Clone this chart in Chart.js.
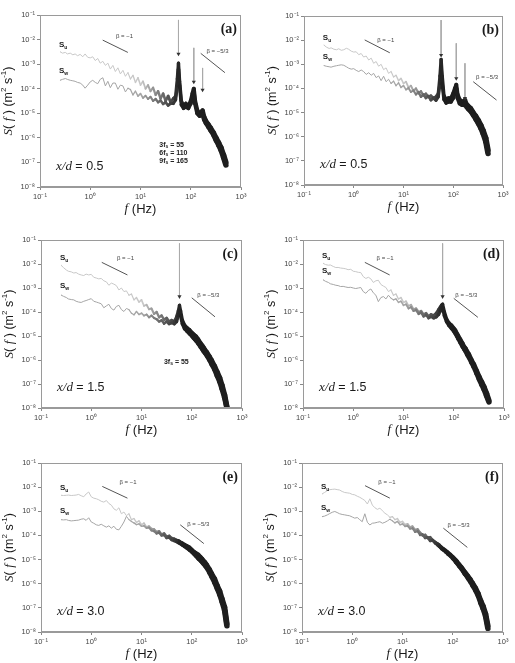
<!DOCTYPE html>
<html><head><meta charset="utf-8">
<script src="https://cdn.jsdelivr.net/npm/chart.js@4/dist/chart.umd.min.js"></script>
<style>
html,body{margin:0;padding:0;background:#fff;}
#wrap{position:relative;width:515px;height:663px;overflow:hidden;}
canvas{position:absolute;}
</style></head><body><div id="wrap">
<canvas id="cA" width="257" height="220" style="left:0;top:0;width:257px;height:220px"></canvas>
<canvas id="cB" width="258" height="220" style="left:257px;top:0;width:258px;height:220px"></canvas>
<canvas id="cC" width="257" height="220" style="left:0;top:220px;width:257px;height:220px"></canvas>
<canvas id="cD" width="258" height="220" style="left:257px;top:220px;width:258px;height:220px"></canvas>
<canvas id="cE" width="257" height="223" style="left:0;top:440px;width:257px;height:223px"></canvas>
<canvas id="cF" width="258" height="223" style="left:257px;top:440px;width:258px;height:223px"></canvas>
</div>
<script>
// ---------------- DATA ----------------
const freq = [0.25,0.28,0.32,0.35,0.40,0.45,0.50,0.56,0.63,0.71,0.79,0.89,1.0,1.12,1.26,1.41,1.58,1.78,2.0,2.24,2.51,2.82,3.16,3.55,3.98,4.47,5.01,5.62,6.31,7.08,7.94,8.91,10,11.2,12.6,14.1,15.8,17.8,20,22.4,25.1,28.2,31.6,35.5,39.8,45,50,54,57,60,65,72,80,90,100,108,115,122,135,150,162,172,185,200,225,250,285,320,360,400,450,500];
const xTicks = [0.1,1,10,100,1000];
const yTicks = [1e-8,1e-7,1e-6,1e-5,1e-4,1e-3,1e-2,1e-1];

const suA = [3.2e-3,2.8e-3,3.0e-3,2.6e-3,2.8e-3,2.4e-3,2.6e-3,2.2e-3,2.5e-3,2.0e-3,
2.6e-3,1.9e-3,1.8e-3,2.0e-3,1.4e-3,1.7e-3,1.1e-3,1.3e-3,8.9e-4,1.1e-3,
6.3e-4,8.9e-4,5.0e-4,7.1e-4,4.0e-4,5.6e-4,3.2e-4,4.5e-4,2.5e-4,3.5e-4,
1.8e-4,2.8e-4,1.4e-4,2.0e-4,1.0e-4,1.4e-4,7.9e-5,1.1e-4,5.6e-5,7.9e-5,
4.0e-5,6.3e-5,3.2e-5,5.0e-5,2.8e-5,4.0e-5,5.0e-5,2.5e-4,1.1e-3,2.0e-4,
3.2e-5,2.0e-5,2.5e-5,2.0e-5,3.2e-5,6.3e-5,1.0e-4,3.2e-5,1.3e-5,1.0e-5,
1.1e-5,1.3e-5,7.1e-6,5.0e-6,3.5e-6,2.5e-6,1.6e-6,1.0e-6,6.3e-7,4.0e-7,
2.0e-7,1.0e-7];
const swA = [2.2e-4,2.4e-4,2.6e-4,2.4e-4,2.2e-4,2.1e-4,2.0e-4,1.8e-4,1.7e-4,1.4e-4,
1.05e-4,1.4e-4,1.9e-4,2.2e-4,1.8e-4,1.6e-4,2.4e-4,2.8e-4,1.3e-4,2.0e-4,
1.1e-4,1.7e-4,1.7e-4,9.5e-5,1.4e-4,1.3e-4,7.4e-5,1.05e-4,9.3e-5,5.6e-5,
7.9e-5,5.0e-5,6.3e-5,4.2e-5,5.2e-5,3.8e-5,4.7e-5,3.2e-5,3.8e-5,2.8e-5,
3.3e-5,2.4e-5,2.8e-5,2.1e-5,2.5e-5,2.5e-5,3.5e-5,1.3e-4,6.3e-4,1.3e-4,
2.2e-5,1.6e-5,1.8e-5,1.6e-5,2.5e-5,5.0e-5,7.1e-5,2.5e-5,1.0e-5,7.9e-6,
8.9e-6,8.9e-6,5.6e-6,4.0e-6,2.8e-6,2.0e-6,1.3e-6,7.9e-7,5.0e-7,3.2e-7,
1.6e-7,7.9e-8];

const suB = [6.3e-3,5.2e-3,4.5e-3,4.8e-3,4.2e-3,4.0e-3,4.4e-3,3.8e-3,4.0e-3,4.6e-3,
4.2e-3,3.5e-3,3.2e-3,3.3e-3,2.5e-3,2.8e-3,2.0e-3,2.2e-3,1.5e-3,1.8e-3,
1.1e-3,1.3e-3,8.3e-4,1.0e-3,6.0e-4,7.1e-4,4.2e-4,5.0e-4,3.0e-4,3.5e-4,
2.1e-4,2.6e-4,1.6e-4,1.9e-4,1.1e-4,1.3e-4,7.9e-5,1.0e-4,6.3e-5,7.6e-5,
5.2e-5,6.0e-5,4.5e-5,5.0e-5,4.0e-5,4.5e-5,6.3e-5,3.2e-4,1.6e-3,3.2e-4,
5.0e-5,3.5e-5,4.0e-5,4.0e-5,6.3e-5,1.0e-4,1.4e-4,5.6e-5,3.3e-5,2.8e-5,
2.8e-5,3.3e-5,2.2e-5,1.9e-5,1.5e-5,1.05e-5,7.1e-6,4.8e-6,3.0e-6,1.8e-6,
8.9e-7,2.8e-7];
const swB = [8.9e-4,8.3e-4,7.9e-4,7.6e-4,8.3e-4,8.7e-4,9.1e-4,9.5e-4,9.1e-4,7.9e-4,
6.9e-4,6.3e-4,6.6e-4,5.6e-4,5.0e-4,5.8e-4,5.0e-4,3.8e-4,4.5e-4,3.5e-4,
4.2e-4,2.8e-4,3.3e-4,2.1e-4,3.2e-4,1.9e-4,2.4e-4,1.6e-4,2.0e-4,1.3e-4,
1.7e-4,1.1e-4,1.3e-4,8.9e-5,1.05e-4,7.1e-5,8.3e-5,5.6e-5,7.1e-5,4.5e-5,
5.6e-5,4.0e-5,4.8e-5,3.3e-5,4.0e-5,3.2e-5,4.5e-5,1.6e-4,7.9e-4,1.6e-4,
3.5e-5,2.5e-5,2.8e-5,2.8e-5,4.0e-5,7.1e-5,1.0e-4,4.0e-5,2.4e-5,2.1e-5,
2.1e-5,2.4e-5,1.7e-5,1.4e-5,1.1e-5,7.9e-6,5.2e-6,3.5e-6,2.2e-6,1.3e-6,
6.3e-7,2.0e-7];

const suC = [8.9e-3,7.1e-3,5.6e-3,5.0e-3,4.7e-3,4.2e-3,4.4e-3,3.8e-3,3.5e-3,3.3e-3,
3.8e-3,3.5e-3,3.7e-3,2.8e-3,2.6e-3,2.4e-3,2.5e-3,2.0e-3,1.8e-3,1.3e-3,
1.6e-3,1.45e-3,1.26e-3,8.3e-4,1.0e-3,7.1e-4,7.6e-4,5.0e-4,5.6e-4,3.2e-4,
4.0e-4,2.6e-4,3.2e-4,1.8e-4,2.0e-4,1.3e-4,1.4e-4,8.3e-5,1.0e-4,6.0e-5,
7.1e-5,4.8e-5,5.6e-5,4.0e-5,4.5e-5,4.0e-5,6.3e-5,1.1e-4,1.9e-4,1.1e-4,
4.5e-5,2.8e-5,2.2e-5,1.8e-5,1.4e-5,1.2e-5,1.05e-5,9.5e-6,7.1e-6,5.0e-6,
4.0e-6,3.3e-6,2.6e-6,2.1e-6,1.4e-6,9.5e-7,5.6e-7,3.2e-7,1.8e-7,8.9e-8,
3.5e-8,1.1e-8];
const swC = [5.1e-4,4.5e-4,4.0e-4,3.5e-4,3.3e-4,3.2e-4,2.8e-4,2.6e-4,2.5e-4,2.8e-4,
3.0e-4,3.3e-4,3.6e-4,2.8e-4,2.6e-4,2.4e-4,2.2e-4,1.5e-4,1.8e-4,2.1e-4,
1.4e-4,1.2e-4,1.7e-4,1.9e-4,1.26e-4,1.05e-4,1.4e-4,1.26e-4,8.9e-5,7.6e-5,
1.05e-4,7.9e-5,8.9e-5,7.1e-5,7.9e-5,6.0e-5,7.1e-5,5.6e-5,5.0e-5,4.0e-5,
4.5e-5,3.3e-5,4.0e-5,3.2e-5,3.5e-5,3.2e-5,4.0e-5,7.1e-5,1.1e-4,7.1e-5,
3.2e-5,2.0e-5,1.6e-5,1.26e-5,1.0e-5,8.3e-6,7.2e-6,6.3e-6,4.8e-6,3.5e-6,
2.8e-6,2.3e-6,1.9e-6,1.5e-6,1.0e-6,6.6e-7,4.0e-7,2.2e-7,1.26e-7,6.3e-8,
2.8e-8,1.05e-8];

const suD = [1.07e-2,9.5e-3,8.9e-3,9.1e-3,7.9e-3,7.1e-3,7.2e-3,6.8e-3,6.6e-3,6.3e-3,
5.8e-3,6.0e-3,5.0e-3,4.8e-3,4.5e-3,4.4e-3,3.0e-3,2.5e-3,2.8e-3,2.4e-3,
1.7e-3,2.0e-3,2.1e-3,1.4e-3,1.2e-3,1.05e-3,7.1e-4,8.3e-4,5.0e-4,5.6e-4,
3.5e-4,4.0e-4,2.5e-4,2.8e-4,1.8e-4,2.0e-4,1.3e-4,1.4e-4,1.0e-4,1.1e-4,
7.9e-5,8.9e-5,6.6e-5,7.9e-5,7.1e-5,8.9e-5,1.26e-4,1.6e-4,1.9e-4,2.1e-4,
1.0e-4,5.0e-5,3.5e-5,2.8e-5,2.1e-5,1.7e-5,1.3e-5,1.05e-5,7.1e-6,4.8e-6,
3.5e-6,3.0e-6,2.2e-6,1.7e-6,1.0e-6,6.6e-7,3.5e-7,2.0e-7,1.2e-7,7.6e-8,
4.0e-8,2.1e-8];
const swD = [2.2e-3,1.9e-3,1.7e-3,1.5e-3,1.4e-3,1.3e-3,1.26e-3,1.15e-3,1.17e-3,1.1e-3,
1.05e-3,1.07e-3,1.0e-3,9.5e-4,1.0e-3,1.05e-3,7.1e-4,6.0e-4,7.9e-4,9.1e-4,
6.3e-4,5.0e-4,2.7e-4,4.0e-4,4.4e-4,3.5e-4,5.0e-4,3.8e-4,3.2e-4,3.5e-4,
2.5e-4,2.8e-4,1.9e-4,2.1e-4,1.4e-4,1.6e-4,1.1e-4,1.2e-4,8.3e-5,9.5e-5,
6.6e-5,7.6e-5,5.6e-5,6.3e-5,5.6e-5,6.3e-5,7.9e-5,1.1e-4,1.4e-4,1.5e-4,
7.1e-5,4.0e-5,2.8e-5,2.1e-5,1.6e-5,1.26e-5,1.0e-5,7.9e-6,5.4e-6,3.6e-6,
2.8e-6,2.3e-6,1.7e-6,1.3e-6,7.9e-7,5.2e-7,2.8e-7,1.6e-7,9.5e-8,6.0e-8,
3.2e-8,1.8e-8];

const suE = [4.6e-3,4.5e-3,4.6e-3,4.7e-3,4.5e-3,4.6e-3,4.7e-3,5.0e-3,4.4e-3,4.0e-3,
5.2e-3,6.3e-3,4.0e-3,3.5e-3,3.3e-3,3.0e-3,2.6e-3,2.4e-3,2.8e-3,2.1e-3,
1.8e-3,1.26e-3,1.1e-3,1.4e-3,7.9e-4,9.3e-4,6.6e-4,7.9e-4,4.5e-4,5.0e-4,
3.5e-4,4.0e-4,2.8e-4,3.2e-4,2.2e-4,2.4e-4,1.9e-4,1.8e-4,1.4e-4,1.5e-4,
1.1e-4,1.2e-4,8.9e-5,9.5e-5,7.6e-5,7.1e-5,6.3e-5,6.0e-5,5.6e-5,5.2e-5,
4.8e-5,4.2e-5,3.7e-5,3.2e-5,2.6e-5,2.2e-5,2.0e-5,1.8e-5,1.6e-5,1.26e-5,
1.05e-5,8.9e-6,7.6e-6,6.0e-6,4.0e-6,2.6e-6,1.6e-6,8.7e-7,5.0e-7,2.4e-7,
1.07e-7,2.2e-8];
const swE = [4.5e-4,4.4e-4,4.5e-4,4.2e-4,4.0e-4,4.1e-4,4.2e-4,4.3e-4,4.7e-4,4.9e-4,
4.2e-4,5.4e-4,3.6e-4,3.2e-4,2.75e-4,2.6e-4,2.9e-4,2.5e-4,2.2e-4,2.5e-4,
2.0e-4,2.4e-4,1.8e-4,1.7e-4,2.4e-4,3.6e-4,6.2e-4,4.5e-4,3.8e-4,3.3e-4,
2.8e-4,3.0e-4,2.4e-4,2.5e-4,2.0e-4,2.1e-4,1.6e-4,1.5e-4,1.2e-4,1.3e-4,
1.0e-4,1.05e-4,7.9e-5,8.3e-5,6.6e-5,6.0e-5,5.5e-5,5.0e-5,4.8e-5,4.5e-5,
4.0e-5,3.5e-5,3.0e-5,2.5e-5,2.1e-5,1.8e-5,1.6e-5,1.4e-5,1.1e-5,8.9e-6,
7.6e-6,6.6e-6,5.5e-6,4.4e-6,2.9e-6,1.9e-6,1.1e-6,6.3e-7,3.5e-7,1.8e-7,
7.9e-8,1.8e-8];

const suF = [5.2e-3,6.0e-3,7.2e-3,7.8e-3,8.1e-3,8.3e-3,7.9e-3,7.6e-3,6.6e-3,6.0e-3,
5.8e-3,5.6e-3,5.0e-3,4.8e-3,4.2e-3,3.8e-3,3.3e-3,2.8e-3,2.0e-3,3.3e-3,
1.8e-3,1.4e-3,1.2e-3,1.35e-3,1.05e-3,8.3e-4,7.1e-4,5.6e-4,6.0e-4,4.5e-4,
5.0e-4,3.5e-4,3.8e-4,2.8e-4,3.0e-4,2.2e-4,2.4e-4,1.7e-4,1.8e-4,1.3e-4,
1.0e-4,1.05e-4,7.9e-5,8.3e-5,6.3e-5,5.2e-5,4.5e-5,4.0e-5,3.5e-5,3.2e-5,
2.8e-5,2.4e-5,2.0e-5,1.6e-5,1.3e-5,1.1e-5,9.5e-6,8.3e-6,6.3e-6,4.8e-6,
3.8e-6,3.2e-6,2.6e-6,2.1e-6,1.5e-6,1.05e-6,6.6e-7,4.0e-7,2.0e-7,1.2e-7,
5.6e-8,1.8e-8];
const swF = [6.0e-4,6.3e-4,7.1e-4,7.9e-4,9.1e-4,9.8e-4,8.9e-4,7.9e-4,7.4e-4,7.1e-4,
6.8e-4,6.5e-4,5.8e-4,5.2e-4,5.5e-4,4.5e-4,3.7e-4,7.9e-4,3.5e-4,2.7e-4,
3.2e-4,3.3e-4,3.5e-4,3.7e-4,3.2e-4,3.5e-4,4.0e-4,4.7e-4,4.0e-4,3.3e-4,
3.8e-4,2.8e-4,3.0e-4,2.4e-4,2.5e-4,1.9e-4,2.0e-4,1.4e-4,1.5e-4,1.05e-4,
1.1e-4,7.9e-5,8.3e-5,6.0e-5,6.3e-5,4.8e-5,4.0e-5,3.5e-5,3.2e-5,2.8e-5,
2.5e-5,2.1e-5,1.7e-5,1.4e-5,1.1e-5,9.5e-6,7.9e-6,6.9e-6,5.2e-6,4.0e-6,
3.2e-6,2.6e-6,2.2e-6,1.7e-6,1.2e-6,8.3e-7,5.2e-7,3.2e-7,1.6e-7,9.5e-8,
4.5e-8,1.4e-8];

// arrows: [frequency, top value, head value]
const arrowsA = [[57,6.3e-2,2.6e-3],[115,4.6e-3,1.9e-4],[172,7.0e-4,8.9e-5]];
const arrowsB = [[57,6.8e-2,2.4e-3],[115,7.4e-3,2.6e-4],[172,1.1e-3,3.9e-5]];
const arrowsC = [[57,7.2e-2,4.4e-4]];
const arrowsD = [[60,7.2e-2,4.4e-4]];
// reference slopes: [[f1,S1],[f2,S2]]
const slopeM1A = [[1.77,9.5e-3],[5.6,3.0e-3]],  slopeM53A = [[158,2.75e-3],[479,4.5e-4]];
const slopeM1B = [[1.66,1.02e-2],[5.3,3.0e-3]], slopeM53B = [[252,1.9e-4],[741,3.3e-5]];
const slopeM1C = [[1.62,1.17e-2],[5.25,3.5e-3]],slopeM53C = [[100,3.9e-4],[290,6.3e-5]];
const slopeM1D = [[1.7,1.17e-2],[5.3,3.5e-3]],  slopeM53D = [[100,3.7e-4],[302,6.0e-5]];
const slopeM1E = [[1.66,1.07e-2],[5.25,3.5e-3]],slopeM53E = [[59,2.75e-4],[174,4.6e-5]];
const slopeM1F = [[1.8,1.15e-2],[5.6,3.5e-3]],  slopeM53F = [[65,2.0e-4],[195,3.2e-5]];
const harmonicsA = [['3','55'],['6','110'],['9','165']];
const harmonicsC = [['3','55']];

// ---------------- HELPERS ----------------
const SANS = '"Liberation Sans", Arial, sans-serif';
const SERIF = '"Liberation Serif", "Times New Roman", serif';
const SUP = {'-':'\u207B','0':'\u2070','1':'\u00B9','2':'\u00B2','3':'\u00B3','4':'\u2074','5':'\u2075','6':'\u2076','7':'\u2077','8':'\u2078','9':'\u2079'};
function powLabel(v){ const e = Math.round(Math.log10(v)); return '10' + String(e).split('').map(c=>SUP[c]).join(''); }
const SU_RGB=[200,200,200], SW_RGB=[165,165,165], DARK=[30,30,30];
function mix(c,t){ return 'rgb(' + c.map((v,i)=>Math.round(v+(DARK[i]-v)*t)).join(',') + ')'; }
function tOf(fx){ const lf=Math.log10(fx); return Math.min(1,Math.max(0,(lf-1.0)/0.8)); }
function wOf(fx){ const lf=Math.log10(fx); if(lf<0.7) return 1; if(lf<1.6) return 1+(lf-0.7)/0.9*2.0; return 3+Math.min(1,(lf-1.6)/1.1)*2.6; }

function drawPieces(ctx, pieces, x, y, align){
  let w=0; pieces.forEach(p=>{ ctx.font=p.f; w+=ctx.measureText(p.t).width; });
  let cx = align==='center' ? x-w/2 : (align==='right' ? x-w : x);
  ctx.textAlign='left';
  pieces.forEach(p=>{ ctx.font=p.f; ctx.fillText(p.t, cx, y+(p.dy||0)); cx+=ctx.measureText(p.t).width; });
}

function seriesDs(vals, rgb){
  return { data: freq.map((f,i)=>({x:f,y:vals[i]})), borderColor: mix(rgb,0), borderWidth:1, pointRadius:0,
    borderCapStyle:'round', borderJoinStyle:'round', tension:0,
    segment:{ borderColor: c=>mix(rgb,tOf(c.p0.parsed.x)), borderWidth: c=>wOf(c.p0.parsed.x) } };
}

function makePanel(p){
  const datasets = [];
  (p.arrows||[]).forEach(a=>{
    datasets.push({ data:[{x:a[0],y:a[1]},{x:a[0],y:a[2]}], borderColor:'#aaaaaa', borderWidth:1,
      pointRadius:[0,2.4], pointStyle:'triangle', pointRotation:180, pointBackgroundColor:'#333', pointBorderColor:'#333', pointBorderWidth:0 });
  });
  [p.b1,p.b2].forEach(b=>{
    datasets.push({ data: b.map(q=>({x:q[0],y:q[1]})), borderColor:'#555', borderWidth:1, pointRadius:0 });
  });
  datasets.push(seriesDs(p.sw, SW_RGB));
  datasets.push(seriesDs(p.su, SU_RGB));

  const deco = { id:'deco', afterDraw(chart){
    const ctx=chart.ctx, a=chart.chartArea, X=chart.scales.x, Y=chart.scales.y;
    ctx.save();
    ctx.strokeStyle='#9a9a9a'; ctx.lineWidth=1;
    ctx.strokeRect(Math.round(a.left)+0.5, Math.round(a.top)+0.5, Math.round(a.width)-1, Math.round(a.height)-1);
    ctx.fillStyle='#1a1a1a'; ctx.textBaseline='alphabetic';
    ctx.font='bold 14px '+SERIF; ctx.textAlign='right';
    ctx.fillText('('+p.letter+')', a.right-4, a.top+18);
    const lx = X.getPixelForValue(freq[0]) - 1;
    drawPieces(ctx,[{t:'S',f:'bold 8px '+SANS},{t:'u',f:'bold 5px '+SANS,dy:2}], lx, Y.getPixelForValue(p.su[0]) - 5, 'left');
    drawPieces(ctx,[{t:'S',f:'bold 8px '+SANS},{t:'w',f:'bold 5px '+SANS,dy:2}], lx, Y.getPixelForValue(p.sw[0]) - 7, 'left');
    ctx.fillStyle='#444'; ctx.textBaseline='middle';
    drawPieces(ctx,[{t:'\u03B2 = \u22121',f:'6px '+SANS}], X.getPixelForValue(p.l1[0]), Y.getPixelForValue(p.l1[1]), 'center');
    drawPieces(ctx,[{t:'\u03B2 = \u22125/3',f:'6px '+SANS}], X.getPixelForValue(p.l2[0]), Y.getPixelForValue(p.l2[1]), 'center');
    ctx.fillStyle='#222';
    (p.harm||[]).forEach((h,i)=>{
      const hx = X.getPixelForValue(p.harmAt[0]), hy = Y.getPixelForValue(p.harmAt[1]) + i*8;
      drawPieces(ctx,[{t:h[0]+'f',f:'bold 7px '+SANS},{t:'s',f:'bold 5px '+SANS,dy:2},{t:' = '+h[1],f:'bold 7px '+SANS}], hx, hy, 'left');
    });
    ctx.fillStyle='#1a1a1a'; ctx.textBaseline='alphabetic';
    drawPieces(ctx,[{t:'x/d',f:'italic 13px '+SERIF},{t:' = '+p.xd,f:'12.5px '+SANS}], a.left+16, a.bottom-17, 'left');
    ctx.textBaseline='middle';
    drawPieces(ctx,[{t:'f',f:'italic 13px '+SERIF},{t:' (Hz)',f:'13px '+SANS}], (a.left+a.right)/2, a.bottom+22, 'center');
    ctx.translate(a.left-31, (a.top+a.bottom)/2); ctx.rotate(-Math.PI/2);
    drawPieces(ctx,[{t:'S',f:'italic 13px '+SERIF},{t:'( ',f:'12.5px '+SANS},{t:'f',f:'italic 13px '+SERIF},{t:' ) (m',f:'12.5px '+SANS},
      {t:'2',f:'8px '+SANS,dy:-5},{t:' s',f:'12.5px '+SANS},{t:'-1',f:'8px '+SANS,dy:-5},{t:')',f:'12.5px '+SANS}], 0, 0, 'center');
    ctx.restore();
  }};

  const axisCommon = {
    type:'logarithmic',
    grid:{ display:true, drawOnChartArea:false, drawTicks:true, tickLength:3, color:'#888' },
    border:{ display:true, color:'#9a9a9a' },
    ticks:{ callback:v=>powLabel(v), font:{size:7.5, family:'"Liberation Sans", Arial'}, color:'#444', padding:2, maxRotation:0, autoSkip:false }
  };
  new Chart(document.getElementById(p.canvas), {
    type:'line',
    data:{ datasets },
    options:{
      responsive:false, animation:false, parsing:true,
      layout:{ padding:p.pad },
      plugins:{ legend:{display:false}, tooltip:{enabled:false} },
      scales:{
        x: Object.assign({}, axisCommon, { min:0.1, max:1000,
          afterBuildTicks:s=>{ s.ticks = xTicks.map(v=>({value:v})); }, afterFit:s=>{ s.height=14; } }),
        y: Object.assign({}, axisCommon, { min:1e-8, max:1e-1,
          afterBuildTicks:s=>{ s.ticks = yTicks.map(v=>({value:v})); }, afterFit:s=>{ s.width=24; } })
      }
    },
    plugins:[deco]
  });
}

const panels = [
  {letter:'a', canvas:'cA', su:suA, sw:swA, xd:'0.5', arrows:arrowsA, b1:slopeM1A, b2:slopeM53A, l1:[4.8,1.3e-2], l2:[340,3.2e-3], harm:harmonicsA, harmAt:[23.6,5.1e-7], pad:{left:16,right:16,top:15,bottom:19}},
  {letter:'b', canvas:'cB', su:suB, sw:swB, xd:'0.5', arrows:arrowsB, b1:slopeM1B, b2:slopeM53B, l1:[4.4,9.5e-3], l2:[480,2.75e-4], pad:{left:23,right:12,top:16,bottom:21}},
  {letter:'c', canvas:'cC', su:suC, sw:swC, xd:'1.5', arrows:arrowsC, b1:slopeM1C, b2:slopeM53C, l1:[4.8,1.74e-2], l2:[214,5.1e-4], harm:harmonicsC, harmAt:[28,8.3e-7], pad:{left:17,right:15,top:20,bottom:18}},
  {letter:'d', canvas:'cD', su:suD, sw:swD, xd:'1.5', arrows:arrowsD, b1:slopeM1D, b2:slopeM53D, l1:[4.3,1.74e-2], l2:[178,5.1e-4], pad:{left:22,right:11,top:20,bottom:18}},
  {letter:'e', canvas:'cE', su:suE, sw:swE, xd:'3.0', b1:slopeM1E, b2:slopeM53E, l1:[5.4,1.6e-2], l2:[135,2.75e-4], pad:{left:17,right:15,top:23,bottom:17}},
  {letter:'f', canvas:'cF', su:suF, sw:swF, xd:'3.0', b1:slopeM1F, b2:slopeM53F, l1:[4.9,1.6e-2], l2:[130,2.5e-4], pad:{left:21,right:12,top:23,bottom:17}}
];
panels.forEach(makePanel);
</script>
</body></html>
